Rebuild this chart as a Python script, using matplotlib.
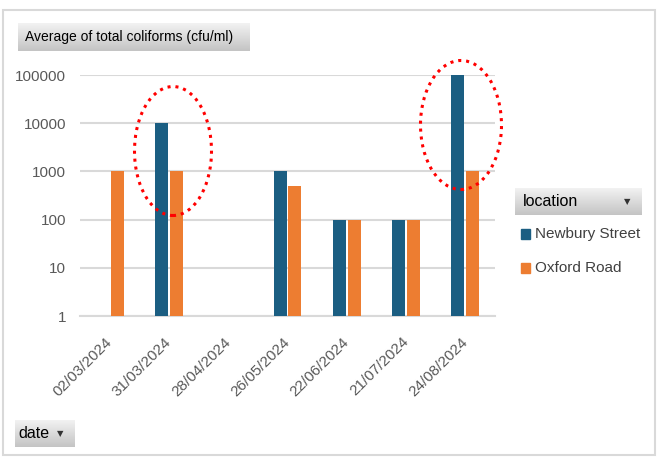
import numpy as np
import matplotlib
matplotlib.use("Agg")
import matplotlib.pyplot as plt
from matplotlib.patches import Ellipse, Rectangle

# Pivot chart data: average total coliforms (cfu/ml) by sampling date and location
dates = ["02/03/2024", "31/03/2024", "28/04/2024", "26/05/2024",
         "22/06/2024", "21/07/2024", "24/08/2024"]
newbury_street = [np.nan, 10000, np.nan, 1000, 100, 100, 100000]
oxford_road = [1000, 1000, np.nan, 500, 100, 100, 1000]
series_names = ["Newbury Street", "Oxford Road"]
series_colors = ["#1b5e82", "#ed7d31"]

W, H = 661, 458
plt.rcParams["font.family"] = ["Liberation Sans", "DejaVu Sans"]

fig = plt.figure(figsize=(W / 100, H / 100), dpi=100)


def px(x0, y0, x1, y1):
    # pixel box (top-left origin) -> figure fraction rect
    return [x0 / W, 1 - y1 / H, (x1 - x0) / W, (y1 - y0) / H]


# outer chart frame
fig.patches.append(Rectangle((3 / W, 1 - 455 / H), 652 / W, 445 / H,
                             transform=fig.transFigure, fill=False,
                             edgecolor="#d9d9d9", linewidth=1.5))

ax = fig.add_axes(px(80, 75, 495, 316))
x = np.arange(len(dates))
bw = 0.22
off = 0.125
ax.bar(x - off, newbury_street, bw, color=series_colors[0], zorder=3, log=True)
ax.bar(x + off, oxford_road, bw, color=series_colors[1], zorder=3, log=True)

ax.set_yscale("log")
ax.set_ylim(1, 100000)
ax.set_xlim(-0.5, len(dates) - 0.5)
ticks = [1, 10, 100, 1000, 10000, 100000]
ax.set_yticks(ticks)
ax.set_yticklabels([str(t) for t in ticks], fontsize=11, color="#595959")
ax.yaxis.set_minor_locator(matplotlib.ticker.NullLocator())
ax.set_xticks(x)
ax.set_xticklabels(dates, rotation=45, ha="right", va="center",
                   rotation_mode="anchor", fontsize=11, color="#595959")
ax.tick_params(axis="y", length=0, pad=10)
ax.tick_params(axis="x", length=0, pad=17)
ax.grid(axis="y", color="#d9d9d9", linewidth=1.5, zorder=0)
for s in ["top", "right", "left"]:
    ax.spines[s].set_visible(False)
ax.spines["bottom"].set_color("#d9d9d9")
ax.spines["bottom"].set_linewidth(1.5)

# dotted red rings highlighting the high readings
for cx, cy, ew, eh in [(173, 151, 77, 129), (461, 125, 81, 129)]:
    fig.patches.append(Ellipse((cx / W, 1 - cy / H), ew / W, eh / H,
                               transform=fig.transFigure, fill=False,
                               edgecolor="#ff0000", linewidth=2.2,
                               linestyle=(0, (1, 1.6)), zorder=10))

grad = np.linspace(0, 1, 50).reshape(-1, 1)
grad_cmap = matplotlib.colors.LinearSegmentedColormap.from_list(
    "btn", ["#f2f2f2", "#c4c4c4"])


def field_button(box, label, arrow=False, size=11):
    bax = fig.add_axes(px(*box))
    bax.imshow(grad, aspect="auto", cmap=grad_cmap, extent=(0, 1, 0, 1))
    bax.set_axis_off()
    bax.text(0.03 if not arrow else 0.06, 0.5, label, va="center", ha="left",
             fontsize=size, color="#000000", transform=bax.transAxes)
    if arrow:
        bax.text(0.88 if box[2] - box[0] > 80 else 0.75, 0.5, "\u25BC",
                 va="center", ha="center", fontsize=6, color="#333333",
                 family="DejaVu Sans", transform=bax.transAxes)


field_button((18, 23, 250, 51), "Average of total coliforms (cfu/ml)", size=10)
field_button((515, 188, 642, 215), "location", arrow=True, size=11.5)
field_button((15, 420, 75, 447), "date", arrow=True, size=11.5)

# legend entries
for i, (name, col) in enumerate(zip(series_names, series_colors)):
    yc = 234 + i * 34
    fig.patches.append(Rectangle((521 / W, 1 - (yc + 5) / H), 9 / W, 10 / H,
                                 transform=fig.transFigure, color=col))
    fig.text(535 / W, 1 - yc / H, name, va="center", ha="left",
             fontsize=11, color="#404040")

fig.savefig("out.png", dpi=100)
